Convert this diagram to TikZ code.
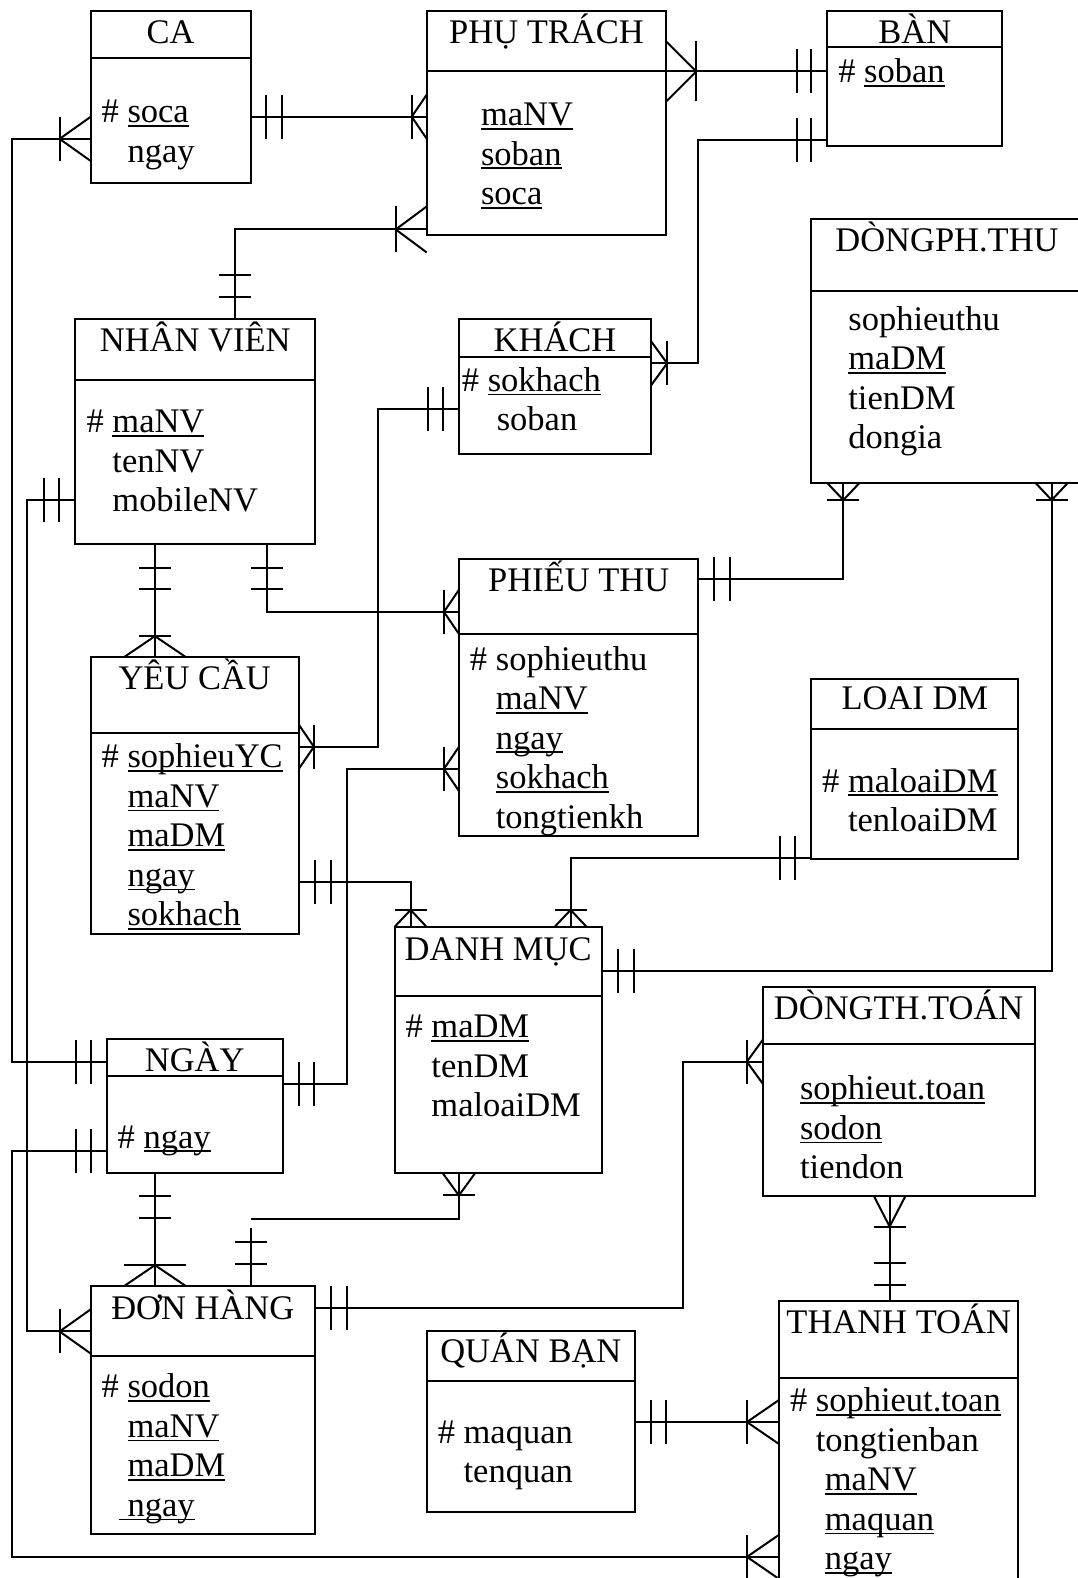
\documentclass[tikz,border=0pt]{standalone}
\usepackage{fontspec}
\setmainfont{Liberation Serif}
\usetikzlibrary{fit,decorations.markings}

\newlength\ulkeywd
\newcommand\ulkey[1]{\settowidth\ulkeywd{#1}\rlap{\rule[-4pt]{\ulkeywd}{1.8pt}}#1}
\newcommand\hk{\phantom{\# }}
\newcommand\attrs[1]{\begin{tabular}[t]{@{}l@{}}#1\end{tabular}}

\tikzset{
  entity/.style={draw,inner sep=0pt,outer sep=0pt},
  ertitle/.style={anchor=base,inner sep=0pt},
  erattr/.style={anchor=base west,inner sep=0pt},
  bars/.style n args={3}{postaction={decorate,decoration={markings,
      mark=at position #1 with {\draw (0pt,-#3pt)--(0pt,#3pt);},
      mark=at position #2 with {\draw (0pt,-#3pt)--(0pt,#3pt);}}}},
  crow start/.style n args={3}{postaction={decorate,decoration={markings,
      mark=at position #1pt with {\draw (0pt,-#3pt)--(0pt,#3pt); \draw (-#1pt,-#2pt)--(0pt,0pt)--(-#1pt,#2pt);}}}},
  crow end/.style n args={3}{postaction={decorate,decoration={markings,
      mark=at position -#1pt with {\draw (0pt,-#3pt)--(0pt,#3pt); \draw (#1pt,-#2pt)--(0pt,0pt)--(#1pt,#2pt);}}}},
}

\begin{document}
\begin{tikzpicture}[x=1.0065pt,y=-1.0065pt,line width=2pt,font=\fontsize{34.5}{39.5}\selectfont]
\useasboundingbox (0,0) rectangle (1071,1568);

% entities
\node[entity,fit={(90,11) (249,182)}] (ca) {};
\draw (ca.west |- 0,58) -- (ca.east |- 0,58);
\node[ertitle] (ca-t) at (ca.north |- 0,43) {CA};
\node[erattr] (ca-a) at (100,122) {\attrs{\# \ulkey{soca}\\ \hk ngay}};

\node[entity,fit={(424,11) (662,234)}] (pt) {};
\draw (pt.west |- 0,71) -- (pt.east |- 0,71);
\node[ertitle] (pt-t) at (pt.north |- 0,43) {PHỤ TRÁCH};
\node[erattr] (pt-a) at (477,125) {\attrs{\ulkey{maNV}\\ \ulkey{soban}\\ \ulkey{soca}}};

\node[entity,fit={(822,11) (996,145)}] (ban) {};
\draw (ban.west |- 0,47) -- (ban.east |- 0,47);
\node[ertitle] (ban-t) at (ban.north |- 0,43) {BÀN};
\node[erattr] (ban-a) at (832,82) {\attrs{\# \ulkey{soban}}};

\node[entity,fit={(806,218) (1076,480)}] (dpt) {};
\draw (dpt.west |- 0,289) -- (dpt.east |- 0,289);
\node[ertitle] (dpt-t) at (dpt.north |- 0,250) {DÒNGPH.THU};
\node[erattr] (dpt-a) at (842,328) {\attrs{sophieuthu\\ \ulkey{maDM}\\ tienDM\\ dongia}};

\node[entity,fit={(75,317) (313,541)}] (nv) {};
\draw (nv.west |- 0,378) -- (nv.east |- 0,378);
\node[ertitle] (nv-t) at (nv.north |- 0,349) {NHÂN VIÊN};
\node[erattr] (nv-a) at (85,430) {\attrs{\# \ulkey{maNV}\\ \hk tenNV\\ \hk mobileNV}};

\node[entity,fit={(456,317) (647,451)}] (kh) {};
\draw (kh.west |- 0,355) -- (kh.east |- 0,355);
\node[ertitle] (kh-t) at (kh.north |- 0,349) {KHÁCH};
\node[erattr] (kh-a) at (458,389) {\attrs{\# \ulkey{sokhach}\\ \hk\hspace{9pt}soban}};

\node[entity,fit={(456,555) (694,831)}] (pht) {};
\draw (pht.west |- 0,630) -- (pht.east |- 0,630);
\node[ertitle] (pht-t) at (pht.north |- 0,588) {PHIẾU THU};
\node[erattr] (pht-a) at (466,666) {\attrs{\# sophieuthu\\ \hk\ulkey{maNV}\\ \hk\ulkey{ngay}\\ \hk\ulkey{sokhach}\\ \hk tongtienkh}};

\node[entity,fit={(90,653) (297,928)}] (yc) {};
\draw (yc.west |- 0,728) -- (yc.east |- 0,728);
\node[ertitle] (yc-t) at (yc.north |- 0,685) {YÊU CẦU};
\node[erattr] (yc-a) at (100,763) {\attrs{\# \ulkey{sophieuYC}\\ \hk\ulkey{maNV}\\ \hk\ulkey{maDM}\\ \hk\ulkey{ngay}\\ \hk\ulkey{sokhach}}};

\node[entity,fit={(806,675) (1012,854)}] (ldm) {};
\draw (ldm.west |- 0,724) -- (ldm.east |- 0,724);
\node[ertitle] (ldm-t) at (ldm.north |- 0,705) {LOAI DM};
\node[erattr] (ldm-a) at (816,787) {\attrs{\# \ulkey{maloaiDM}\\ \hk tenloaiDM}};

\node[entity,fit={(392,921) (598,1166)}] (dm) {};
\draw (dm.west |- 0,990) -- (dm.east |- 0,990);
\node[ertitle] (dm-t) at (dm.north |- 0,954) {DANH MỤC};
\node[erattr] (dm-a) at (402,1031) {\attrs{\# \ulkey{maDM}\\ \hk tenDM\\ \hk maloaiDM}};

\node[entity,fit={(758,981) (1028,1188)}] (dtt) {};
\draw (dtt.west |- 0,1037) -- (dtt.east |- 0,1037);
\node[ertitle] (dtt-t) at (dtt.north |- 0,1013) {DÒNGTH.TOÁN};
\node[erattr] (dtt-a) at (794,1093) {\attrs{\ulkey{sophieut.toan}\\ \ulkey{sodon}\\ tiendon}};

\node[entity,fit={(106,1032) (281,1166)}] (ngay) {};
\draw (ngay.west |- 0,1069) -- (ngay.east |- 0,1069);
\node[ertitle] (ngay-t) at (ngay.north |- 0,1065) {NGÀY};
\node[erattr] (ngay-a) at (116,1141) {\attrs{\# \ulkey{ngay}}};

\node[entity,fit={(90,1278) (313,1524)}] (dh) {};
\draw (dh.west |- 0,1347) -- (dh.east |- 0,1347);
\node[ertitle] (dh-t) at (dh.north |- 0,1311) {ĐƠN HÀNG};
\node[erattr] (dh-a) at (100,1389) {\attrs{\# \ulkey{sodon}\\ \hk\ulkey{maNV}\\ \hk\ulkey{maDM}\\ \phantom{\#}\ulkey{\ ngay}}};

\node[entity,fit={(424,1323) (631,1502)}] (qb) {};
\draw (qb.west |- 0,1372) -- (qb.east |- 0,1372);
\node[ertitle] (qb-t) at (qb.north |- 0,1354) {QUÁN BẠN};
\node[erattr] (qb-a) at (434,1434) {\attrs{\# maquan\\ \hk tenquan}};

\node[entity,fit={(774,1293) (1012,1590)}] (tt) {};
\draw (tt.west |- 0,1369) -- (tt.east |- 0,1369);
\node[ertitle] (tt-t) at (tt.north |- 0,1325) {THANH TOÁN};
\node[erattr] (tt-a) at (784,1403) {\attrs{\# \ulkey{sophieut.toan}\\ \hk tongtienban\\ \hk\hspace{9pt}\ulkey{maNV}\\ \hk\hspace{9pt}\ulkey{maquan}\\ \hk\hspace{9pt}\ulkey{ngay}}};

% relationships
\draw[bars={15pt}{31pt}{22},crow end={15}{22}{22}] (ca.east |- 0,116) -- (pt.west |- 0,116);
\draw[bars={16pt}{31pt}{22},crow end={31}{22}{22}] (ngay.west |- 0,1055) -| (12,138) -- (ca.west |- 0,138);
\draw[crow start={30}{30}{30},bars={-30pt}{-16pt}{22}] (pt.east |- 0,71) -- (ban.west |- 0,71);
\draw[bars={16pt}{30pt}{22},crow end={16}{22}{22}] (ban.west |- 0,139) -| (694,361) -- (kh.east |- 0,361);
\draw[crow start={31}{23}{23},bars={-44pt}{-22pt}{16}] (pt.west |- 0,228) -| (234,0 |- nv.north);
\draw[bars={16pt}{31pt}{22},crow end={31}{22}{22}] (nv.west |- 0,497) -| (27,1323) -- (dh.west |- 0,1323);
\draw[bars={24pt}{45pt}{16},crow end={21}{31}{16}] (154,0 |- nv.south) -- (154,0 |- yc.north);
\draw[bars={24pt}{45pt}{16},crow end={15}{22}{22}] (265,0 |- nv.south) |- (pht.west |- 0,608);
\draw[bars={16pt}{31pt}{22},crow end={15}{22}{22}] (kh.west |- 0,406) -| (376,742) -- (yc.east |- 0,742);
\draw[crow start={15}{22}{22},bars={-31pt}{-16pt}{22}] (pht.west |- 0,764) -| (345,1077) -- (ngay.east |- 0,1077);
\draw[bars={16pt}{32pt}{22},crow end={17}{16}{16}] (yc.east |- 0,876) -| (408,0 |- dm.north);
\draw[bars={16pt}{31pt}{22},crow end={17}{16}{16}] (ldm.west |- 0,853) -| (567,0 |- dm.north);
\draw[bars={16pt}{32pt}{22},crow end={17}{16}{16}] (dm.east |- 0,965) -| (1045,0 |- dpt.south);
\draw[bars={16pt}{32pt}{22},crow end={17}{16}{16}] (pht.east |- 0,575) -| (838,0 |- dpt.south);
\coordinate (dm-end) at (249,1211);
\coordinate (dh-end) at (249,1220);
\draw[crow start={22}{16}{16}] (456,0 |- dm.south) |- (dm-end);
\draw[bars={14pt}{36pt}{16}] (dh-end) -- (249,0 |- dh.north);
\draw[bars={23pt}{45pt}{16},crow end={21}{31}{31}] (154,0 |- ngay.south) -- (154,0 |- dh.north);
\draw[bars={16pt}{31pt}{22},crow end={32}{22}{22}] (ngay.west |- 0,1144) -| (12,1547) -- (tt.west |- 0,1547);
\draw[bars={16pt}{32pt}{22},crow end={16}{22}{22}] (dh.east |- 0,1300) -| (679,1055) -- (dtt.west |- 0,1055);
\draw[crow start={31}{16}{16},bars={-38pt}{-16pt}{16}] (884,0 |- dtt.south) -- (884,0 |- tt.north);
\draw[bars={16pt}{31pt}{22},crow end={32}{22}{22}] (qb.east |- 0,1413) -- (tt.west |- 0,1413);
\end{tikzpicture}
\end{document}
